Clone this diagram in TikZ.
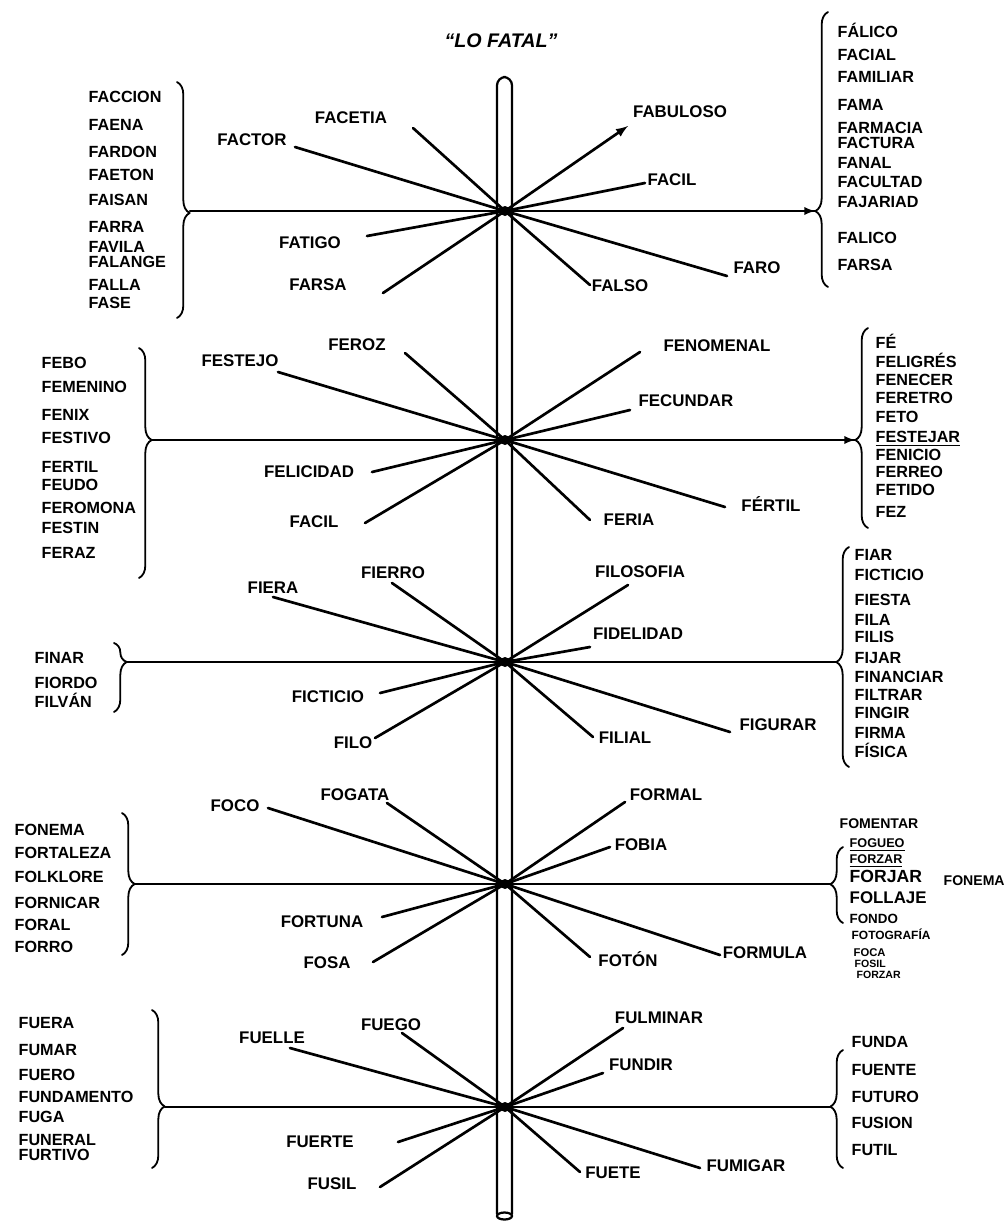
\documentclass[tikz,border=0pt]{standalone}
\usepackage{fontspec}
\setmainfont{Liberation Sans}
\usetikzlibrary{arrows,decorations.pathreplacing}

\begin{document}
\begin{tikzpicture}[x=.025cm,y=-.025cm,line cap=round,line join=round,
  spoke/.style={line width=1.9pt},
  axis/.style={line width=1.6pt},
  tag/.style={inner sep=1pt,text height=8.5pt,text depth=0pt,
    font=\bfseries\fontsize{12}{14}\selectfont},
  entry/.style={tag,anchor=west,font=\bfseries\fontsize{11.5}{13}\selectfont},
  bracket/.style={decorate,line width=1.3pt,
    decoration={brace,amplitude=9pt,aspect=#1}}]
  \fill[white] (0,0) rectangle (1008,1226);
  \useasboundingbox (0,0) rectangle (1008,1226);
  \node[tag,font=\bfseries\itshape\fontsize{14}{16}\selectfont] (title) at (501,42) {“LO FATAL”};
  % the pole
  \draw[line width=1.6pt,rounded corners=6pt]
    (497,1214) -- (497,77) -- (512,77) -- (512,1214);
  \draw[line width=1.6pt] (504.5,1216) ellipse [x radius=7.5,y radius=3.5];
  % axes and hubs
  \foreach \hub/\y/\lx/\rx in {fa/211/190/815,fe/440/152/855,
      fi/662/127/836,fo/884/135/830,fu/1107/165/830} {
    \coordinate (\hub) at (505,\y);
    \coordinate (\hub-in) at (\lx,\y);
    \coordinate (\hub-out) at (\rx,\y);
    \draw[axis] (\hub-in) -- (\hub-out);
    \fill (\hub) circle [radius=5];
  }
  \foreach \hub in {fa,fe}
    \draw[axis,-latex] (\hub) -- (\hub-out);
  % spokes
  \foreach \hub/\ex/\ey/\lx/\ly/\word in {
      fa/295/147/252/140/FACTOR,fa/413/128/351/118/FACETIA,
      fa/367/236/310/243/FATIGO,fa/383/293/318/285/FARSA,
      fa/645/183/672/180/FACIL,fa/590/285/620/286/FALSO,fa/727/276/757/268/FARO,
      fe/278/372/240/361/FESTEJO,fe/405/353/357/345/FEROZ,
      fe/372/472/309/472/FELICIDAD,fe/365/523/314/522/FACIL,
      fe/640/352/717/346/FENOMENAL,fe/630/410/686/401/FECUNDAR,
      fe/590/520/629/520/FERIA,fe/725/507/771/506/FÉRTIL,
      fi/273/597/273/588/FIERA,fi/392/583/393/573/FIERRO,
      fi/380/693/328/697/FICTICIO,fi/375/738/353/743/FILO,
      fi/628/585/640/572/FILOSOFIA,fi/590/647/638/634/FIDELIDAD,
      fi/593/737/625/738/FILIAL,fi/730/732/778/725/FIGURAR,
      fo/268/808/235/806/FOCO,fo/387/803/355/795/FOGATA,
      fo/382/917/322/922/FORTUNA,fo/373/962/327/963/FOSA,
      fo/625/802/666/795/FORMAL,fo/610/847/641/845/FOBIA,
      fo/590/957/628/961/FOTÓN,fo/720/955/765/953/FORMULA,
      fu/290/1048/272/1038/FUELLE,fu/402/1033/391/1025/FUEGO,
      fu/398/1142/320/1142/FUERTE,fu/380/1187/332/1184/FUSIL,
      fu/623/1028/659/1018/FULMINAR,fu/603/1073/641/1065/FUNDIR,
      fu/580/1172/613/1173/FUETE,fu/700/1168/746/1166/FUMIGAR} {
    \coordinate (\hub-\ex) at (\ex,\ey);
    \node[tag] (\hub-\ex-tag) at (\lx,\ly) {\word};
    \draw[spoke] (\hub) -- (\hub-\ex);
  }
  \coordinate (fa-628) at (628,126);
  \node[tag] (fa-628-tag) at (680,112) {FABULOSO};
  \draw[spoke,-latex] (fa) -- (fa-628);
  % word lists
  \foreach \y/\w in {97/FACCION,125/FAENA,152/FARDON,175/FAETON,200/FAISAN,
      227/FARRA,247/FAVILA,262/FALANGE,285/FALLA,303/FASE}
    \node[entry] (fa-l\y) at (87,\y) {\w};
  \foreach \y/\w in {32/FÁLICO,55/FACIAL,77/FAMILIAR,105/FAMA,128/FARMACIA,
      143/FACTURA,163/FANAL,182/FACULTAD,202/FAJARIAD,238/FALICO,265/FARSA}
    \node[entry] (fa-r\y) at (836,\y) {\w};
  \foreach \y/\w in {363/FEBO,387/FEMENINO,415/FENIX,438/FESTIVO,467/FERTIL,
      485/FEUDO,508/FEROMONA,528/FESTIN,553/FERAZ}
    \node[entry] (fe-l\y) at (40,\y) {\w};
  \foreach \y/\w in {343/FÉ,362/FELIGRÉS,380/FENECER,398/FERETRO,417/FETO,
      437/\underline{FESTEJAR},455/FENICIO,472/FERREO,490/FETIDO,512/FEZ}
    \node[entry] (fe-r\y) at (874,\y) {\w};
  \foreach \y/\w in {658/FINAR,683/FIORDO,702/FILVÁN}
    \node[entry] (fi-l\y) at (33,\y) {\w};
  \foreach \y/\w in {555/FIAR,575/FICTICIO,600/FIESTA,620/FILA,637/FILIS,
      658/FIJAR,677/FINANCIAR,695/FILTRAR,713/FINGIR,733/FIRMA,752/FÍSICA}
    \node[entry] (fi-r\y) at (853,\y) {\w};
  \foreach \y/\w in {830/FONEMA,853/FORTALEZA,877/FOLKLORE,903/FORNICAR,
      925/FORAL,947/FORRO}
    \node[entry] (fo-l\y) at (13,\y) {\w};
  \foreach \x/\y/\w/\s in {838/823/FOMENTAR/10,848/842/\underline{FOGUEO}/9,
      848/858/\underline{FORZAR}/9,848/877/FORJAR/12.5,848/898/FOLLAJE/12,
      848/918/FONDO/9.5,850/934/FOTOGRAFÍA/8.5,852/951/FOCA/8,
      853/962/FOSIL/7.5,855/973/FORZAR/7.5}
    \node[entry,font=\bfseries\fontsize{\s}{\s}\selectfont] (fo-r\y) at (\x,\y) {\w};
  \node[entry,font=\bfseries\fontsize{10}{12}\selectfont] (fonema) at (942,880) {FONEMA};
  \foreach \y/\w in {1023/FUERA,1050/FUMAR,1075/FUERO,1097/FUNDAMENTO,
      1117/FUGA,1140/FUNERAL,1155/FURTIVO}
    \node[entry] (fu-l\y) at (17,\y) {\w};
  \foreach \y/\w in {1042/FUNDA,1070/FUENTE,1097/FUTURO,1123/FUSION,1150/FUTIL}
    \node[entry] (fu-r\y) at (850,\y) {\w};
  % braces
  \draw[bracket=.555] (177,82) -- (177,318);
  \draw[bracket=.276] (828,287) -- (828,12);
  \draw[bracket=.40] (139,348) -- (139,578);
  \draw[bracket=.44] (868,528) -- (868,328);
  \draw[bracket=.275] (114,643) -- (114,712);
  \draw[bracket=.477] (849,767) -- (849,547);
  \draw[bracket=.50] (122,813) -- (122,955);
  \draw[bracket=.51] (843,923) -- (843,847);
  \draw[bracket=.61] (152,1010) -- (152,1168);
  \draw[bracket=.52] (843,1168) -- (843,1050);
\end{tikzpicture}
\end{document}
